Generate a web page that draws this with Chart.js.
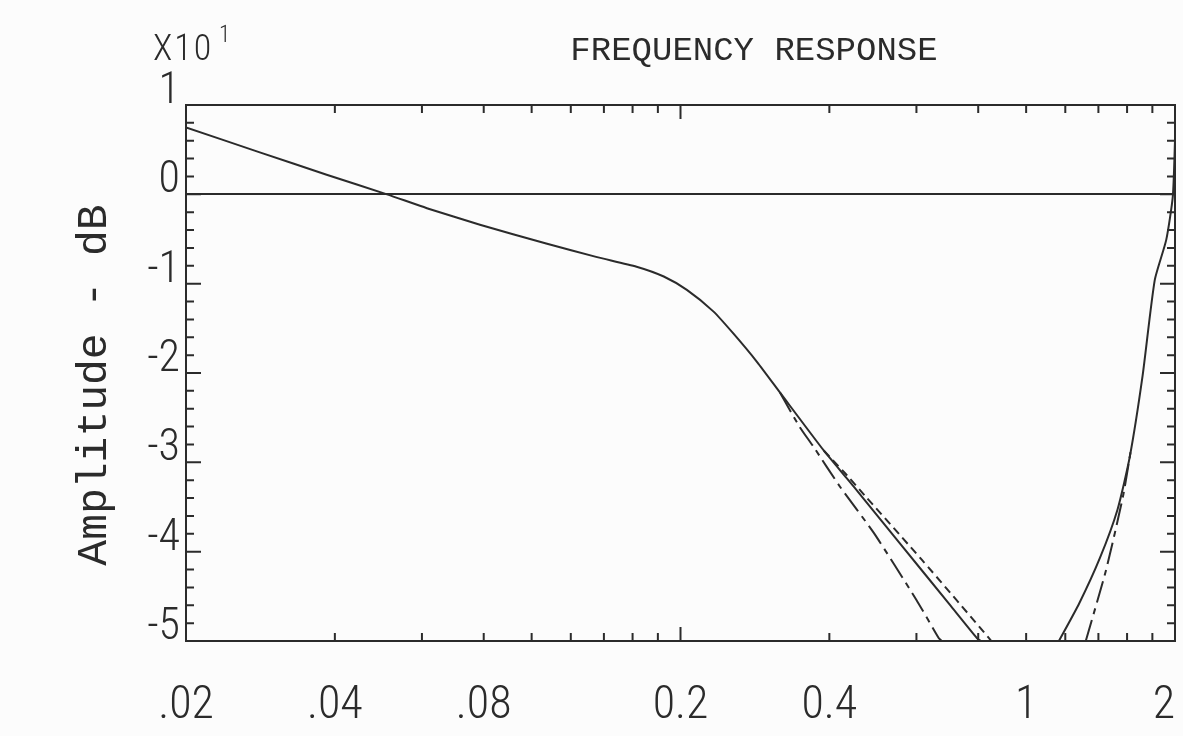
<!DOCTYPE html>
<html>
<head>
<meta charset="utf-8">
<script src="https://cdn.jsdelivr.net/npm/chart.js@4.4.1/dist/chart.umd.min.js"></script>
<style>
html,body{margin:0;padding:0;background:#fcfcfc;}
#wrap{width:1183px;height:736px;}
</style>
</head>
<body>
<div id="wrap"><canvas id="c" width="1183" height="736"></canvas></div>
<script>
// ---- tick values / labels ----
const xTickValues = [0.02, 0.04, 0.08, 0.2, 0.4, 1, 2];
const xTickLabels = ['.02', '.04', '.08', '0.2', '0.4', '1', '2'];
const xMinorTicks = [0.04, 0.06, 0.08, 0.1, 0.12, 0.14, 0.16, 0.18, 0.2, 0.4, 0.6, 0.8, 1.0, 1.2, 1.4, 1.6, 1.8];
const xLongTicks = [0.2];
const yTickValues = [10, 0, -10, -20, -30, -40, -50];
const yTickLabels = ['1', '0', '-1', '-2', '-3', '-4', '-5'];
const yMinorTicks = [8, 6, 4, 2, 0, -2, -4, -6, -8, -10, -12, -14, -16, -18, -20, -22, -24, -26, -28, -30,
  -32, -34, -36, -38, -40, -42, -44, -46, -48];

// ---- series (frequency, amplitude in dB) ----
const solidFreq = [0.02, 0.0282, 0.0385, 0.051, 0.0614, 0.0786, 0.107, 0.135, 0.163, 0.185, 0.206, 0.233,
  0.256, 0.286, 0.318, 0.39, 0.434, 0.468, 0.556, 0.70, 0.796, 0.81,
  1.0,
  1.165, 1.28, 1.41, 1.53, 1.62, 1.72, 1.82, 1.92, 1.98, 2.0];
const solidDb = [7.5, 4.7, 2.2, 0, -1.55, -3.4, -5.5, -7.0, -8.1, -9.2, -10.7, -13.1,
  -15.6, -18.8, -22.2, -28.7, -31.8, -34.0, -39.1, -45.9, -49.7, -50,
  null,
  -50, -45.8, -40.7, -35.3, -29.4, -20.3, -9.6, -5.1, -0.2, 6];

const dashDotFreq = [0.318, 0.348, 0.372, 0.42, 0.492, 0.60, 0.666, 0.675,
  1.0,
  1.32, 1.45, 1.57, 1.63];
const dashDotDb = [-22.2, -26.0, -28.3, -32.7, -37.9, -45.4, -49.7, -50,
  null,
  -50, -42.1, -33.8, -28.5];

const dashedFreq = [0.39, 0.43, 0.475, 0.615, 0.842, 0.85];
const dashedDb = [-28.7, -31.2, -33.9, -40.9, -49.7, -50];

// ---- styling ----
const INK = '#2b2b2b';
const TICK_FONT = "'Roboto Condensed', 'Liberation Sans Narrow', 'DejaVu Sans Condensed', sans-serif";
const MONO_FONT = "'Liberation Mono', 'DejaVu Sans Mono', monospace";

const pts = (fx, fy) => fx.map((f, i) => ({x: f, y: fy[i]}));

const framePlugin = {
  id: 'frame',
  beforeDraw(chart) {
    const ctx = chart.ctx;
    ctx.save();
    ctx.fillStyle = '#fcfcfc';
    ctx.fillRect(0, 0, chart.width, chart.height);
    ctx.restore();
  },
  afterDatasetsDraw(chart) {
    const {ctx, chartArea: a, scales: {x, y}} = chart;
    ctx.save();
    ctx.strokeStyle = INK;
    ctx.lineWidth = 2;
    ctx.strokeRect(a.left, a.top, a.right - a.left, a.bottom - a.top);
    ctx.beginPath();
    yMinorTicks.forEach(v => {
      const p = y.getPixelForValue(v);
      const L = (v % 10 === 0) ? 15 : 8;
      ctx.moveTo(a.left, p); ctx.lineTo(a.left + L, p);
      ctx.moveTo(a.right, p); ctx.lineTo(a.right - L, p);
    });
    xMinorTicks.forEach(v => {
      const p = x.getPixelForValue(v);
      const L = xLongTicks.includes(v) ? 14 : 8;
      ctx.moveTo(p, a.top); ctx.lineTo(p, a.top + L);
      ctx.moveTo(p, a.bottom); ctx.lineTo(p, a.bottom - L);
    });
    ctx.stroke();
    ctx.restore();
  },
  afterDraw(chart) {
    const {ctx, chartArea: a, scales: {x}} = chart;
    ctx.save();
    ctx.fillStyle = INK;
    // x tick labels, placed through the x scale
    ctx.font = "300 46px " + TICK_FONT;
    ctx.textBaseline = 'alphabetic';
    xTickValues.forEach((v, i) => {
      const p = x.getPixelForValue(v);
      const last = i === xTickValues.length - 1;
      ctx.textAlign = last ? 'right' : 'center';
      ctx.fillText(xTickLabels[i], last ? a.right : p, 718);
    });
    // title
    ctx.font = "34px " + MONO_FONT;
    ctx.textAlign = 'center';
    ctx.fillText('FREQUENCY RESPONSE', 754, 60);
    // exponent marker
    ctx.textAlign = 'left';
    ctx.font = "300 36px " + TICK_FONT;
    try { ctx.letterSpacing = '2px'; } catch (e) {}
    ctx.fillText('X10', 153, 60);
    try { ctx.letterSpacing = '0px'; } catch (e) {}
    ctx.font = "300 23px " + TICK_FONT;
    ctx.fillText('1', 219, 42);
    // y axis title
    ctx.translate(95, 385);
    ctx.rotate(-Math.PI / 2);
    ctx.font = "43px " + MONO_FONT;
    ctx.textAlign = 'center';
    ctx.textBaseline = 'middle';
    ctx.fillText('Amplitude - dB', 0, 0);
    ctx.restore();
  }
};

new Chart(document.getElementById('c'), {
  type: 'line',
  data: {
    datasets: [
      {label: 'solid', data: pts(solidFreq, solidDb), borderColor: INK, borderWidth: 2,
        pointRadius: 0, tension: 0.2, spanGaps: false, clip: 0},
      {label: 'dash-dot', data: pts(dashDotFreq, dashDotDb), borderColor: INK, borderWidth: 2,
        borderDash: [22, 6, 6, 6], pointRadius: 0, tension: 0.2, spanGaps: false, clip: 0},
      {label: 'dashed', data: pts(dashedFreq, dashedDb), borderColor: INK, borderWidth: 2,
        borderDash: [8, 5], pointRadius: 0, tension: 0.2, spanGaps: false, clip: 0}
    ]
  },
  options: {
    responsive: false,
    animation: false,
    devicePixelRatio: 1,
    layout: {padding: {left: 0, right: 8, top: 105, bottom: 0}},
    plugins: {legend: {display: false}, tooltip: {enabled: false}, title: {display: false}},
    scales: {
      x: {
        type: 'logarithmic', min: 0.02, max: 2,
        afterBuildTicks: s => { s.ticks = xTickValues.map(v => ({value: v})); },
        afterFit: s => { s.height = 95; s.paddingLeft = 0; s.paddingRight = 0; },
        grid: {display: false, drawTicks: false},
        border: {display: false},
        ticks: {display: false}
      },
      y: {
        type: 'linear', min: -50, max: 10,
        afterBuildTicks: s => { s.ticks = yTickValues.map(v => ({value: v})); },
        afterFit: s => { s.width = 186; },
        grid: {
          drawTicks: false,
          color: c => (c.tick && c.tick.value === 0) ? INK : 'rgba(0,0,0,0)',
          lineWidth: 2
        },
        border: {display: false},
        ticks: {
          autoSkip: false, padding: 6, color: INK, labelOffset: -13,
          font: {family: TICK_FONT, size: 44, weight: 300},
          callback: v => { const i = yTickValues.indexOf(v); return i >= 0 ? yTickLabels[i] : ''; }
        }
      }
    }
  },
  plugins: [framePlugin]
});
</script>
</body>
</html>
